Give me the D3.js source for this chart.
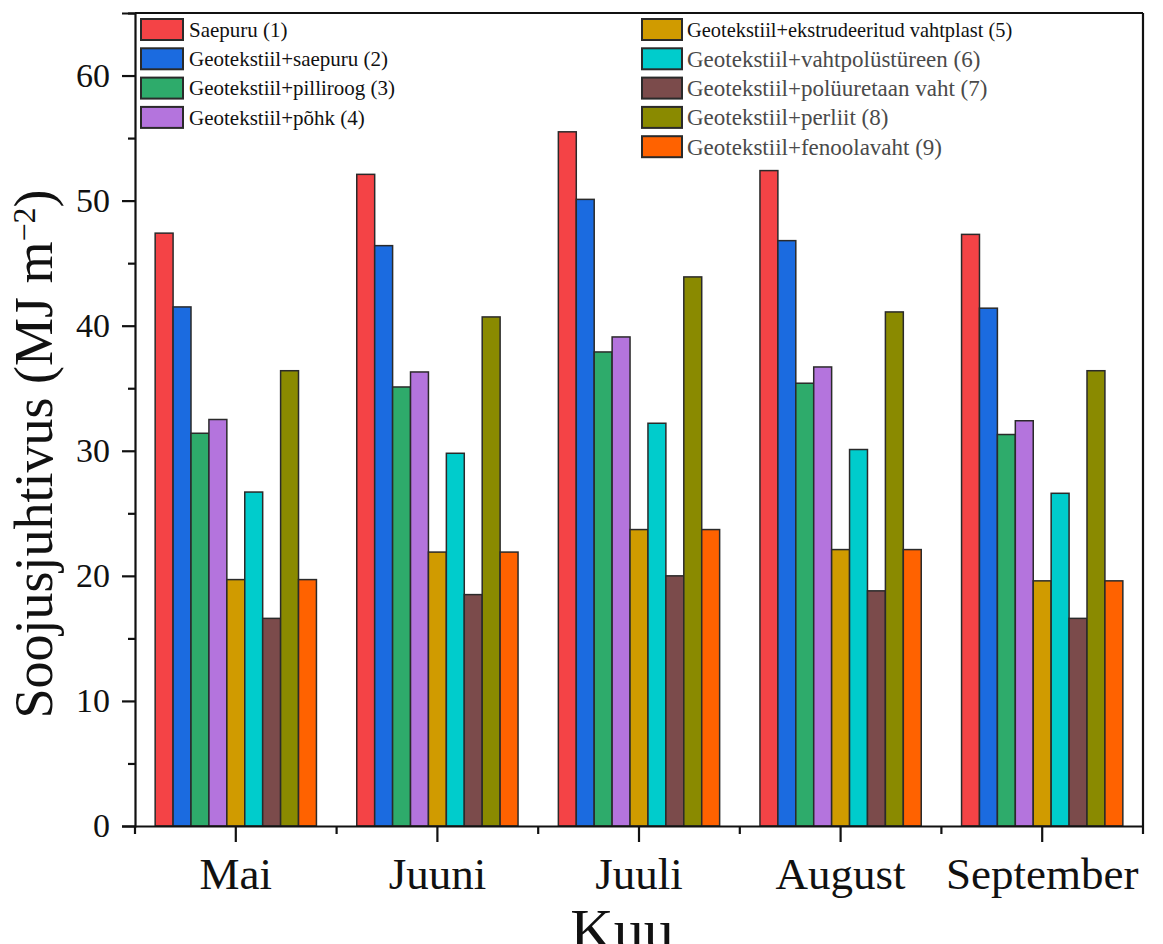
<!DOCTYPE html>
<html><head><meta charset="utf-8">
<script src="https://cdn.jsdelivr.net/npm/d3@7/dist/d3.min.js"></script>
<style>body{margin:0;background:#fff}svg{display:block}</style>
</head><body><svg id="c" width="1163" height="944"></svg>
<script>
const months = ["Mai", "Juuni", "Juuli", "August", "September"];
const seriesNames = [
  "Saepuru (1)",
  "Geotekstiil+saepuru (2)",
  "Geotekstiil+pilliroog (3)",
  "Geotekstiil+põhk (4)",
  "Geotekstiil+ekstrudeeritud vahtplast (5)",
  "Geotekstiil+vahtpolüstüreen (6)",
  "Geotekstiil+polüuretaan vaht (7)",
  "Geotekstiil+perliit (8)",
  "Geotekstiil+fenoolavaht (9)"
];
const seriesColors = ["#f44346", "#1b6be0", "#2eab6b", "#b474dd", "#d09b00", "#00cccc", "#7b4b4b", "#8a8a00", "#ff6200"];
const s1 = [47.4, 52.1, 55.5, 52.4, 47.3];
const s2 = [41.5, 46.4, 50.1, 46.8, 41.4];
const s3 = [31.4, 35.1, 37.9, 35.4, 31.3];
const s4 = [32.5, 36.3, 39.1, 36.7, 32.4];
const s5 = [19.7, 21.9, 23.7, 22.1, 19.6];
const s6 = [26.7, 29.8, 32.2, 30.1, 26.6];
const s7 = [16.6, 18.5, 20.0, 18.8, 16.6];
const s8 = [36.4, 40.7, 43.9, 41.1, 36.4];
const s9 = [19.7, 21.9, 23.7, 22.1, 19.6];
const yTicks = [0, 10, 20, 30, 40, 50, 60];
const yMinorTicks = [5, 15, 25, 35, 45, 55, 65];

const seriesValues = [s1, s2, s3, s4, s5, s6, s7, s8, s9];
const FONT = "'Liberation Serif','Times New Roman',serif";

const svg = d3.select("#c");
const L = 135, R = 1143, T = 13, B = 826;

const x0 = d3.scaleBand().domain(months).range([L, R]).paddingInner(0.2).paddingOuter(0.1);
const x1 = d3.scaleBand().domain(d3.range(9)).range([0, x0.bandwidth()]).padding(0);
const y = d3.scaleLinear().domain([0, 65]).range([B, T]);

// bars
const groups = svg.append("g").selectAll("g").data(months).join("g")
  .attr("transform", d => `translate(${x0(d)},0)`);
groups.selectAll("rect").data((m, i) => seriesValues.map((s, k) => ({k, v: s[i]}))).join("rect")
  .attr("x", d => x1(d.k))
  .attr("width", x1.bandwidth())
  .attr("y", d => y(d.v))
  .attr("height", d => y(0) - y(d.v))
  .attr("fill", d => seriesColors[d.k])
  .attr("stroke", "#2a2a2a")
  .attr("stroke-width", 1.5);

// frame (top & right)
svg.append("line").attr("x1", L).attr("x2", R).attr("y1", T).attr("y2", T).attr("stroke", "#111").attr("stroke-width", 2.2);
svg.append("line").attr("x1", R).attr("x2", R).attr("y1", T).attr("y2", B).attr("stroke", "#111").attr("stroke-width", 2.2);

// y axis
const yAxis = svg.append("g").attr("transform", `translate(${L},0)`)
  .call(d3.axisLeft(y).tickValues(yTicks).tickSize(13).tickPadding(12).tickFormat(d3.format("d")));
svg.append("g").attr("transform", `translate(${L},0)`)
  .call(d3.axisLeft(y).tickValues(yMinorTicks).tickSize(7).tickFormat(""))
  .call(g => g.select(".domain").remove());
yAxis.selectAll("text").attr("font-family", FONT).attr("font-size", 34).attr("fill", "#111");

// x axis
const xAxis = svg.append("g").attr("transform", `translate(0,${B})`)
  .call(d3.axisBottom(x0).tickSize(16).tickPadding(15).tickSizeOuter(0));
xAxis.selectAll("text").attr("font-family", FONT).attr("font-size", 45).attr("fill", "#111");
const halfGap = (x0.step() - x0.bandwidth()) / 2;
const minorX = months.map(m => x0(m) - halfGap).concat([x0(months[months.length - 1]) + x0.bandwidth() + halfGap]);
svg.append("g").selectAll("line").data(minorX).join("line")
  .attr("x1", d => d).attr("x2", d => d).attr("y1", B).attr("y2", B + 8)
  .attr("stroke", "#111").attr("stroke-width", 2.2);

svg.selectAll(".domain").attr("stroke", "#111").attr("stroke-width", 2.2);
svg.selectAll(".tick line").attr("stroke", "#111").attr("stroke-width", 2.2);

// axis titles
const yt = svg.append("text")
  .attr("transform", `translate(52,454) rotate(-90)`)
  .attr("text-anchor", "middle")
  .attr("font-family", FONT).attr("font-size", 54).attr("fill", "#111");
yt.append("tspan").text("Soojusjuhtivus (MJ m");
yt.append("tspan").text("−2").attr("font-size", 32).attr("dy", -17);
yt.append("tspan").text(")").attr("dy", 17);

svg.append("text").attr("x", 622).attr("y", 950).attr("text-anchor", "middle")
  .attr("font-family", FONT).attr("font-size", 60).attr("fill", "#111").text("Kuu");

// legend
const legendRows = seriesNames.map((n, k) => ({
  n, k,
  col: k < 4 ? 0 : 1,
  row: k < 4 ? k : k - 4
}));
const leg = svg.append("g").selectAll("g").data(legendRows).join("g")
  .attr("transform", d => `translate(${d.col === 0 ? 141 : 642},${29.5 + d.row * 29.3})`);
leg.append("rect").attr("x", 0).attr("y", -10.5).attr("width", d => d.col === 0 ? 42 : 40).attr("height", 21)
  .attr("fill", d => seriesColors[d.k]).attr("stroke", "#2a2a2a").attr("stroke-width", 2);
leg.append("text").attr("x", d => d.col === 0 ? 48 : 45).attr("y", 0).attr("dy", "0.35em")
  .attr("font-family", FONT)
  .attr("font-size", d => d.k < 4 ? 21 : (d.k === 4 ? 20.4 : 23))
  .attr("fill", d => d.k < 5 ? "#111" : "#4a4a4a")
  .text(d => d.n);
</script></body></html>
